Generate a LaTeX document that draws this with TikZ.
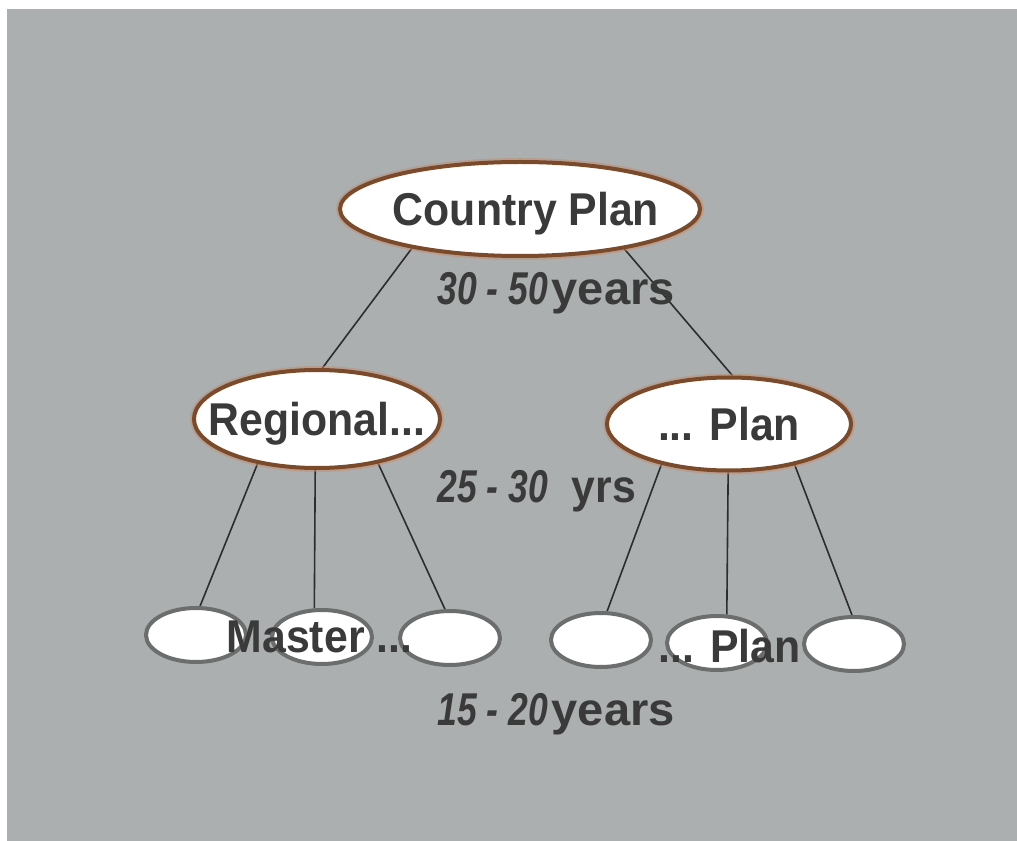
\documentclass[tikz,border=0pt]{standalone}
\usepackage{fontspec}
\newfontfamily\lbl{Liberation Sans}[FakeStretch=0.93]
\usetikzlibrary{shapes.geometric}
\definecolor{bgc}{RGB}{171,175,175}
\definecolor{brownc}{RGB}{122,74,42}
\definecolor{haloc}{RGB}{196,140,110}
\definecolor{grayb}{RGB}{108,110,110}
\definecolor{txtc}{RGB}{58,58,58}
\definecolor{wirec}{RGB}{45,45,45}
\newcommand{\ctrtxt}[2][0pt]{\smash{\makebox[0pt]{\hspace{#1}\raisebox{-0.36em}{#2}}}}
\pgfdeclarelayer{bgl}
\pgfdeclarelayer{wires}
\pgfsetlayers{bgl,wires,main}
\begin{document}
\begin{tikzpicture}[x=0.75pt,y=-0.75pt,
  every node/.style={font=\lbl\bfseries\fontsize{34.5}{40}\selectfont, text=txtc},
  bigov/.style={ellipse, draw=brownc, line width=3pt, fill=white, inner sep=0pt,
    preaction={draw=haloc, line width=6pt, opacity=0.5}},
  smallov/.style={ellipse, draw=grayb, line width=3pt, fill=white, inner sep=0pt,
    minimum width=75pt, minimum height=40.5pt},
  wire/.style={draw=wirec, line width=1.2pt},
  yrtext/.style={anchor=base west, inner sep=0pt},
  plaintext/.style={anchor=base, inner sep=0pt}]
\useasboundingbox (0,0) rectangle (1017,841);
\begin{pgfonlayer}{bgl}
\fill[white] (0,0) rectangle (1017,841);
\fill[bgc] (7,9) rectangle (1017,841);
\end{pgfonlayer}
% top level
\node[bigov, minimum width=270pt, minimum height=70.5pt] (cp) at (520,209) {\ctrtxt[9pt]{Country Plan}};
% second level
\node[bigov, minimum width=184.5pt, minimum height=73.5pt] (reg) at (317,419) {\ctrtxt{Regional...}};
\node[bigov, minimum width=183pt, minimum height=69.75pt] (pl) at (729,424) {\ctrtxt{... Plan}};
% third level
\node[smallov] (l1) at (196,635) {};
\node[smallov] (l2) at (322,637) {};
\node[smallov] (l3) at (450,638) {};
\node[smallov] (r1) at (601,640) {};
\node[smallov] (r2) at (717,643) {};
\node[smallov] (r3) at (854,644) {};
% texts
\node[plaintext] (mtx) at (319.5,652) {Master ...};
\node[plaintext] (ptx) at (729.5,662) {... Plan};
\node[yrtext] (y1) at (437,305) {\scalebox{0.83}[1]{\itshape 30 - 50}\hspace{3pt}\scalebox{1.1}[1]{years}};
\node[yrtext] (y2) at (437,502) {\scalebox{0.83}[1]{\itshape 25 - 30}\hspace{18pt}yrs};
\node[yrtext] (y3) at (437,725) {\scalebox{0.83}[1]{\itshape 15 - 20}\hspace{3pt}\scalebox{1.1}[1]{years}};
% connectors
\begin{pgfonlayer}{wires}
\draw[wire] (cp.200.5) -- (reg.84);
\draw[wire] (cp.339) -- (pl.86);
\draw[wire] (reg.217) -- (l1.82);
\draw[wire] (reg.268) -- (l2.105);
\draw[wire] (reg.324) -- (l3.100);
\draw[wire] (pl.211) -- (r1.78);
\draw[wire] (pl.269) -- (r2.71);
\draw[wire] (pl.328) -- (r3.94);
\end{pgfonlayer}
\end{tikzpicture}
\end{document}
